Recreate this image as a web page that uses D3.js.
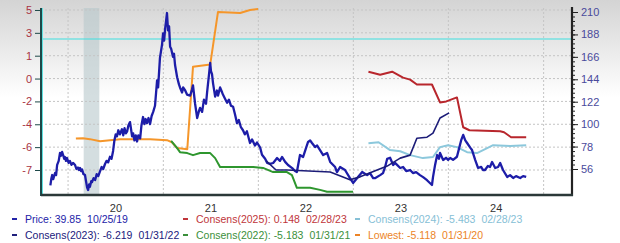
<!DOCTYPE html>
<html>
<head>
<meta charset="utf-8">
<script src="https://cdn.jsdelivr.net/npm/d3@7"></script>
<style>
  body { margin: 0; background: #fff; }
  svg { display: block; font-family: Arial, "Liberation Sans", sans-serif; }
</style>
</head>
<body>
<div id="chart"></div>
<script>
// tick labels
var leftTicks = [-7, -6, -4, -2, 0, 1, 3, 5];
var rightTicks = [56, 78, 100, 122, 144, 166, 188, 210];
var yearLabels = ["2020", "2021", "2022", "2023", "2024"];

// price (right axis)
var price = [
  ["2019-10-25",39.9],["2019-10-29",47],["2019-11-01",50.1],["2019-11-05",46],["2019-11-12",52.1],
  ["2019-11-16",50],["2019-11-20",60],["2019-11-26",64],["2019-12-01",71.7],["2019-12-05",69],
  ["2019-12-09",72.7],["2019-12-13",69.7],["2019-12-17",66],["2019-12-20",67.8],["2019-12-24",64],
  ["2019-12-28",66.8],["2020-01-03",62],["2020-01-08",63.8],["2020-01-14",60],["2020-01-20",62],
  ["2020-01-28",59.9],["2020-02-02",56],["2020-02-08",57.5],["2020-02-12",55],["2020-02-16",57.0],
  ["2020-02-20",54],["2020-02-24",55.5],["2020-02-29",51],["2020-03-06",50.1],["2020-03-10",44],
  ["2020-03-14",38],["2020-03-18",35.4],["2020-03-22",41],["2020-03-25",38.5],["2020-03-30",44],
  ["2020-04-02",43.2],["2020-04-08",47],["2020-04-14",45.2],["2020-04-20",51],["2020-04-26",49],
  ["2020-05-03",54.0],["2020-05-09",58],["2020-05-15",56],["2020-05-22",60.9],["2020-05-28",64],
  ["2020-06-03",62.5],["2020-06-10",68],["2020-06-16",66],["2020-06-22",73.7],["2020-06-27",84],
  ["2020-07-02",90],["2020-07-07",88],["2020-07-12",94],["2020-07-18",90],["2020-07-26",95],
  ["2020-07-31",89],["2020-08-05",96],["2020-08-10",91],["2020-08-15",93],["2020-08-20",99],
  ["2020-08-26",102],["2020-08-30",95],["2020-09-03",88],["2020-09-07",91],["2020-09-12",84],
  ["2020-09-17",89],["2020-09-22",83],["2020-09-27",89],["2020-10-04",86],["2020-10-09",99],
  ["2020-10-15",107],["2020-10-20",100],["2020-10-25",105],["2020-10-30",101],["2020-11-05",106],
  ["2020-11-11",100],["2020-11-17",108],["2020-11-23",112],["2020-11-30",118],["2020-12-08",143],
  ["2020-12-12",136],["2020-12-19",165],["2020-12-27",178],["2020-12-31",189],["2021-01-04",182],
  ["2021-01-08",194],["2021-01-11",200],["2021-01-15",209],["2021-01-19",192],["2021-01-23",196],
  ["2021-01-27",176],["2021-01-31",174],["2021-02-07",166],["2021-02-11",169],["2021-02-15",158],
  ["2021-02-23",146],["2021-03-02",139],["2021-03-06",136],["2021-03-14",131],["2021-03-18",136],
  ["2021-03-26",133],["2021-04-02",129],["2021-04-14",128],["2021-04-21",134],["2021-04-25",138],
  ["2021-05-03",120],["2021-05-11",106],["2021-05-18",113],["2021-05-22",116],["2021-05-30",112],
  ["2021-06-06",124],["2021-06-14",120],["2021-06-18",131],["2021-06-26",150],["2021-06-30",160],
  ["2021-07-03",152],["2021-07-07",149],["2021-07-11",140],["2021-07-19",127],["2021-07-26",133],
  ["2021-07-30",128],["2021-08-07",136],["2021-08-15",131],["2021-08-18",129],["2021-08-26",125],
  ["2021-09-03",121],["2021-09-10",124],["2021-09-18",118],["2021-09-26",117],["2021-10-03",110],
  ["2021-10-11",101],["2021-10-18",104],["2021-10-26",97],["2021-11-03",94],["2021-11-10",90],
  ["2021-11-18",93],["2021-11-30",81.5],["2021-12-08",85],["2021-12-19",79],["2021-12-27",82],
  ["2022-01-08",77],["2022-01-15",70],["2022-01-27",66],["2022-02-04",62],["2022-02-15",61],
  ["2022-02-27",61.9],["2022-03-14",66.7],["2022-03-25",64],["2022-04-02",67.8],["2022-04-14",63],
  ["2022-04-25",59.9],["2022-05-11",56.9],["2022-05-22",54],["2022-05-29",53],["2022-06-10",69.7],
  ["2022-06-22",67.8],["2022-07-11",82.5],["2022-07-19",84],["2022-07-26",81.5],["2022-08-07",77.6],
  ["2022-08-15",79],["2022-08-26",74.6],["2022-09-07",69.7],["2022-09-22",71.7],["2022-10-04",62.9],
  ["2022-10-23",57.9],["2022-10-30",53],["2022-11-11",57.9],["2022-11-30",55],["2022-12-19",47],
  ["2022-12-31",42.3],["2023-01-15",47],["2023-02-04",53],["2023-02-23",50],["2023-03-06",52],
  ["2023-03-18",47],["2023-03-25",47],["2023-04-14",50],["2023-04-25",52],["2023-05-03",58],
  ["2023-05-11",66],["2023-05-22",67],["2023-06-03",59.9],["2023-06-10",62],["2023-06-18",60],
  ["2023-06-30",57],["2023-07-11",58],["2023-07-23",54],["2023-08-07",55],["2023-08-18",52],
  ["2023-08-30",53],["2023-09-14",50],["2023-09-26",48],["2023-10-11",45],["2023-10-23",42],
  ["2023-10-30",40.3],["2023-11-03",48],["2023-11-11",60],["2023-11-19",69.7],["2023-11-26",66],
  ["2023-11-30",71.7],["2023-12-12",64.8],["2023-12-23",67],["2023-12-31",65],["2024-01-08",66.8],
  ["2024-01-19",65],["2024-02-03",68],["2024-02-11",76],["2024-02-19",84],["2024-02-27",89.4],
  ["2024-03-06",84],["2024-03-13",81.5],["2024-03-25",77],["2024-04-01",74.6],["2024-04-13",65],
  ["2024-04-24",57],["2024-05-06",58],["2024-05-13",55],["2024-05-21",55],["2024-06-01",59],
  ["2024-06-09",58],["2024-06-17",62.9],["2024-06-29",57],["2024-07-10",58],["2024-07-18",61.9],
  ["2024-07-29",55],["2024-08-14",48.2],["2024-08-25",50],["2024-09-06",47.2],["2024-09-17",49],
  ["2024-10-03",47.2],["2024-10-14",49],["2024-10-26",48.2]
];

// consensus estimates (left axis)
var consens2025 = [
  ["2023-02-28",0.30],["2023-04-14",0.17],["2023-05-30",0.30],["2023-07-11",0.04],["2023-08-07",-0.09],
  ["2023-09-02",-0.52],["2023-10-30",-0.52],["2023-11-30",-2.09],["2023-12-24",-2.0],["2024-02-03",-1.65],
  ["2024-02-27",-4.26],["2024-03-22",-4.52],["2024-07-18",-4.61],["2024-08-02",-4.70],["2024-08-29",-5.13],
  ["2024-10-26",-5.13]
];
var consens2024 = [
  ["2023-02-28",-5.65],["2023-04-08",-5.57],["2023-05-22",-6.13],["2023-06-30",-6.18],["2023-08-07",-6.35],
  ["2023-09-25",-6.48],["2023-11-03",-6.43],["2023-11-30",-6.0],["2023-12-31",-5.83],["2024-02-03",-6.0],
  ["2024-03-13",-6.22],["2024-04-20",-6.26],["2024-05-29",-6.04],["2024-06-21",-5.83],["2024-08-26",-5.91],
  ["2024-10-26",-5.83]
];
var consens2023 = [
  ["2022-01-31",-6.6],["2022-03-10",-7.0],["2022-04-21",-7.0],["2022-10-04",-7.09],["2022-12-19",-7.43],
  ["2023-01-27",-7.30],["2023-05-11",-6.83],["2023-06-30",-6.48],["2023-08-07",-6.35],["2023-09-02",-5.22],
  ["2023-10-11",-5.13],["2023-11-03",-4.78],["2023-11-30",-3.45],["2024-01-04",-3.0]
];
var consens2022 = [
  ["2021-01-31",-5.45],["2021-02-23",-6.04],["2021-03-06",-6.22],["2021-04-03",-6.26],["2021-04-25",-6.35],
  ["2021-05-22",-6.26],["2021-06-30",-6.26],["2021-07-19",-6.48],["2021-08-07",-6.87],["2021-12-12",-6.87],
  ["2022-01-19",-6.91],["2022-02-27",-7.09],["2022-04-21",-7.09],["2022-05-10",-7.22],["2022-05-29",-7.78],
  ["2022-07-19",-7.78],["2022-08-26",-7.87],["2022-09-22",-7.95],["2022-12-31",-7.95]
];
var lowest = [
  ["2020-01-31",-5.25],["2020-02-27",-5.22],["2020-03-25",-5.30],["2020-05-03",-5.48],["2020-06-10",-5.39],
  ["2020-07-19",-5.30],["2020-09-07",-5.30],["2020-11-11",-5.30],["2021-01-15",-5.39],["2021-02-03",-5.57],
  ["2021-02-23",-6.04],["2021-04-03",-6.09],["2021-04-25",0.52],["2021-06-30",0.61],["2021-07-30",4.83],
  ["2021-10-23",4.74],["2021-11-30",5.0],["2021-12-31",5.09]
];

var recession = ["2020-03-01", "2020-04-30"];
var refPrice = 183.5;

// legend: [name and value, date]
var legendRows = [
  [["Price: 39.85", "10/25/19"], ["Consens(2025): 0.148", "02/28/23"], ["Consens(2024): -5.483", "02/28/23"]],
  [["Consens(2023): -6.219", "01/31/22"], ["Consens(2022): -5.183", "01/31/21"], ["Lowest: -5.118", "01/31/20"]]
];

var colors = {
  price: "#1d1da8", c2025: "#b8262c", c2024: "#8cc8dc", c2023: "#1c1c78",
  c2022: "#2e962e", lowest: "#f5962a", ref: "#3fe0e0"
};
var legendColors = [
  ["#2323a8", "#c0353a", "#86c0d6"],
  ["#20207c", "#3a8f3a", "#ec8426"]
];

// svg
var svgWidth = 620, svgHeight = 243;
var plot = {left: 41, right: 572, top: 8, bottom: 195};

var svg = d3.select("#chart").append("svg")
  .attr("width", svgWidth)
  .attr("height", svgHeight);

var defs = svg.append("defs");
var grad = defs.append("linearGradient").attr("id", "bg")
  .attr("x1", 0).attr("y1", 0).attr("x2", 0).attr("y2", 1);
grad.append("stop").attr("offset", "0%").attr("stop-color", "#d4d4d4");
grad.append("stop").attr("offset", "40%").attr("stop-color", "#ffffff");
grad.append("stop").attr("offset", "100%").attr("stop-color", "#ffffff");

svg.append("rect").attr("width", svgWidth).attr("height", svgHeight).attr("fill", "url(#bg)");

var parse = d3.timeParse("%Y-%m-%d");

// scales
var x = d3.scaleTime()
  .domain([parse("2019-09-19"), parse("2025-04-20")])
  .range([plot.left, plot.right]);

var step = 22.86;
var yLeft = d3.scaleLinear()
  .domain(leftTicks)
  .range(leftTicks.map(function(d, i) { return 170 - i * step; }));

var yRight = d3.scaleLinear()
  .domain([56, 210])
  .range([169, 12]);

// recession band
svg.append("rect")
  .attr("x", x(parse(recession[0])))
  .attr("y", plot.top)
  .attr("width", x(parse(recession[1])) - x(parse(recession[0])))
  .attr("height", plot.bottom - plot.top)
  .attr("fill", "#b8c8cc")
  .attr("opacity", 0.6);

// grid
var yearStarts = d3.range(2020, 2026).map(function(y) { return new Date(y, 0, 1); });
svg.append("g").selectAll("line")
  .data(yearStarts).enter().append("line")
  .attr("x1", function(d) { return x(d); })
  .attr("x2", function(d) { return x(d); })
  .attr("y1", plot.top).attr("y2", plot.bottom)
  .attr("stroke", "#c4c4c4").attr("stroke-dasharray", "2,2");

svg.append("g").selectAll("line")
  .data(leftTicks).enter().append("line")
  .attr("x1", plot.left).attr("x2", plot.right)
  .attr("y1", function(d) { return yLeft(d); })
  .attr("y2", function(d) { return yLeft(d); })
  .attr("stroke", "#c4c4c4").attr("stroke-dasharray", "2,2");

// reference line
svg.append("line")
  .attr("x1", plot.left).attr("x2", plot.right)
  .attr("y1", yRight(refPrice)).attr("y2", yRight(refPrice))
  .attr("stroke", colors.ref).attr("stroke-width", 1.2);

// lines
var lineLeft = d3.line()
  .x(function(d) { return x(parse(d[0])); })
  .y(function(d) { return yLeft(d[1]); });
var lineRight = d3.line()
  .x(function(d) { return x(parse(d[0])); })
  .y(function(d) { return yRight(d[1]); });

function drawLine(data, gen, color, w) {
  svg.append("path")
    .datum(data)
    .attr("d", gen)
    .attr("fill", "none")
    .attr("stroke", color)
    .attr("stroke-width", w)
    .attr("stroke-linejoin", "round");
}

drawLine(lowest, lineLeft, colors.lowest, 2);
drawLine(consens2022, lineLeft, colors.c2022, 2);
drawLine(consens2024, lineLeft, colors.c2024, 2);
drawLine(consens2025, lineLeft, colors.c2025, 2);
drawLine(price, lineRight, colors.price, 2.3);
drawLine(consens2023, lineLeft, colors.c2023, 1.6);

// left axis
var leftAxis = d3.axisLeft(yLeft).tickValues(leftTicks).tickSize(6).tickFormat(function(d) { return d; });
var gl = svg.append("g").attr("transform", "translate(" + plot.left + ",0)").call(leftAxis);
gl.select(".domain").remove();
gl.selectAll(".tick line").attr("stroke", "#1d4848");
gl.selectAll(".tick text").attr("fill", "#a83444").attr("font-size", 11).attr("font-family", null).attr("x", -9);
svg.append("line").attr("x1", plot.left).attr("x2", plot.left)
  .attr("y1", plot.top).attr("y2", plot.bottom + 1)
  .attr("stroke", "#1d4848").attr("stroke-width", 2);
svg.append("line").attr("x1", plot.left + 1.5).attr("x2", plot.left + 1.5)
  .attr("y1", plot.top).attr("y2", plot.bottom)
  .attr("stroke", "#5fe0e0").attr("stroke-width", 1);

// right axis
var minorTicks = d3.range(56, 211, 4.4);
var gm = svg.append("g").attr("transform", "translate(" + plot.right + ",0)")
  .call(d3.axisRight(yRight).tickValues(minorTicks).tickSize(3).tickFormat(""));
gm.select(".domain").remove();
gm.selectAll(".tick line").attr("stroke", "#222");

var gr = svg.append("g").attr("transform", "translate(" + plot.right + ",0)")
  .call(d3.axisRight(yRight).tickValues(rightTicks).tickSize(6));
gr.select(".domain").remove();
gr.selectAll(".tick line").attr("stroke", "#222");
gr.selectAll(".tick text").attr("fill", "#4a4a9c").attr("font-size", 11).attr("font-family", null).attr("x", 9);
svg.append("line").attr("x1", plot.right).attr("x2", plot.right)
  .attr("y1", plot.top - 1).attr("y2", plot.bottom + 1)
  .attr("stroke", "#222").attr("stroke-width", 2.2);

// bottom axis
var yearMids = yearLabels.map(function(y) { return new Date(+y, 6, 1); });
var gb = svg.append("g").attr("transform", "translate(0," + plot.bottom + ")")
  .call(d3.axisBottom(x).tickValues(yearMids).tickSize(0).tickFormat(d3.timeFormat("%y")));
gb.select(".domain").remove();
gb.selectAll(".tick text").attr("fill", "#333").attr("font-size", 11).attr("font-family", null).attr("y", 9);
svg.append("line").attr("x1", plot.left).attr("x2", plot.right + 1)
  .attr("y1", plot.bottom).attr("y2", plot.bottom)
  .attr("stroke", "#2b3838").attr("stroke-width", 2.5);

// legend
var colX = [12, 183, 355];
var rowY = [219, 235];
legendRows.forEach(function(row, r) {
  row.forEach(function(item, c) {
    var g = svg.append("g").attr("transform", "translate(" + colX[c] + "," + rowY[r] + ")");
    g.append("rect").attr("x", 0).attr("y", -1).attr("width", 5).attr("height", 2)
      .attr("fill", legendColors[r][c]);
    var t = g.append("text").attr("x", 13).attr("y", 4)
      .attr("fill", legendColors[r][c])
      .attr("font-size", 10.5);
    t.append("tspan").text(item[0]);
    t.append("tspan").attr("dx", 6).text(item[1]);
  });
});
</script>
</body>
</html>
